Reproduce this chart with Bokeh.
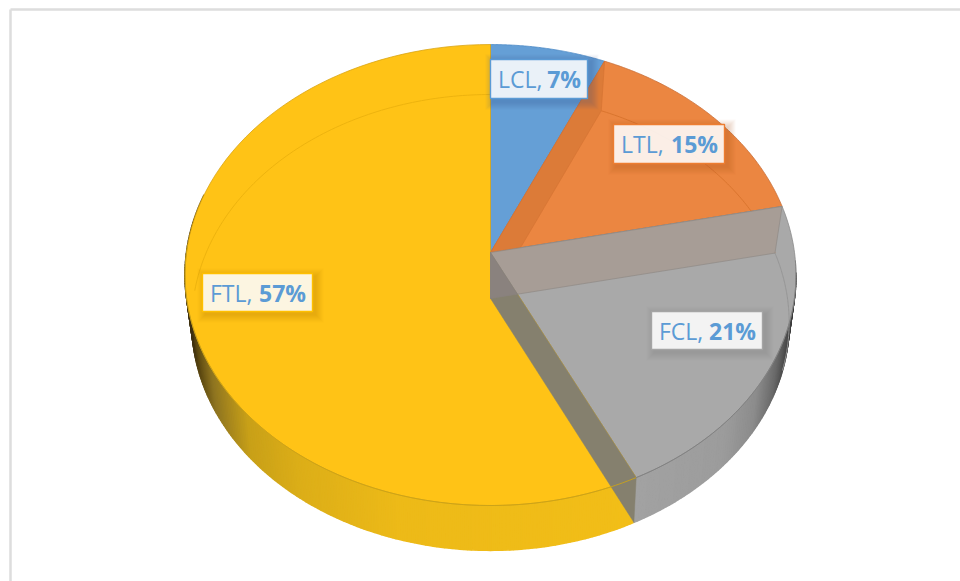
import numpy as np
from bokeh.plotting import figure
from bokeh.models import Range1d
from bokeh.core.properties import value
from bokeh.embed import file_html
from bokeh.resources import INLINE

# ---- data ----
categories = ["LCL", "LTL", "FCL", "FTL"]
shares = [6.7, 15.0, 21.1, 57.2]
percent_labels = ["7%", "15%", "21%", "57%"]

# ---- styles / layout ----
face_colors = ["#659FD6", "#EB8641", "#A9A9A9", "#FFC316"]
edge_colors = ["#4F8CC6", "#C9703A", "#8C8C8C", "#D9A514"]
box_left = [490, 613, 651, 202]
box_right = [587, 724, 762, 312]
box_top = [59, 124, 311, 273]
box_bottom = [98, 163, 349, 311]
box_border = ["#5B9BD5", "#ED7D31", "#A5A5A5", "#FFC000"]
shadow_col = ["#2F5F90", "#A85A20", "#666666", "#A87E00"]
TEXT_COL = "#5B9BD5"
FONT = "Open Sans"

# projection of the round pie on the page
TOP = dict(cx=490.0, cy=252.0, a=304.0, b=228.3, k=0.0977)
BOT = dict(cx=490.0, cy=298.0, a=297.0, b=225.4, k=0.105)


def rim(theta_deg, P):
    t = np.radians(np.asarray(theta_deg, dtype=float))
    x, y = np.sin(t), np.cos(t)
    w = 1 + P["k"] * y
    return P["cx"] + P["a"] * x / w, P["cy"] - P["b"] * y / w


def cross(p1, p2, p3, p4):
    d1 = np.subtract(p2, p1)
    d2 = np.subtract(p4, p3)
    c = lambda u, v: u[0] * v[1] - u[1] * v[0]
    s = c(np.subtract(p3, p1), d2) / c(d1, d2)
    return tuple(np.add(p1, s * d1))


def arc(t0, t1, P, n=90):
    return rim(np.linspace(t0, t1, n), P)


def hex2rgb(h):
    return np.array([int(h[i:i + 2], 16) for i in (1, 3, 5)], dtype=float)


def ramp(xv, xs, cols):
    rgb = [np.interp(xv, xs, [hex2rgb(c)[i] for c in cols]) for i in range(3)]
    return "#%02x%02x%02x" % tuple(int(round(v)) for v in rgb)


edges = np.concatenate([[0], np.cumsum(shares)]) / np.sum(shares) * 360.0

p = figure(width=960, height=581, x_range=Range1d(0, 960), y_range=Range1d(581, 0),
           output_backend="svg", toolbar_location=None, min_border=0,
           outline_line_color=None, background_fill_color="white")
p.axis.visible = False
p.grid.visible = False

# chart frame
p.line([10, 10], [581, 9], line_color="#DDDDDD", line_width=2.5)
p.line([10, 960], [9, 9], line_color="#DDDDDD", line_width=2.5)

# outer wall, shaded by position along the rim
wall_stops = {
    3: ([192, 200, 215, 250, 300, 400, 640],
        ["#3E3010", "#5E4A12", "#8E7420", "#C8A018", "#DCAE18", "#EDBA18", "#F2BE18"]),
    2: ([636, 720, 750, 770, 782, 790],
        ["#A2A2A2", "#9C9C9C", "#8C8C8C", "#6A6A6A", "#484848", "#2C2C2C"]),
}
for idx, (xs, cs) in wall_stops.items():
    t0, t1 = edges[idx], edges[idx + 1]
    t1 = min(t1, 285.0)
    t0 = max(t0, 95.0)
    th = np.linspace(t0, t1, int((t1 - t0) * 1.5) + 2)
    tx, ty = rim(th, TOP)
    bx, by = rim(th, BOT)
    for i in range(len(th) - 1):
        col = ramp(0.5 * (bx[i] + bx[i + 1]), xs, cs)
        p.patch([tx[i], tx[i + 1], bx[i + 1], bx[i]], [ty[i], ty[i + 1], by[i + 1], by[i]],
                fill_color=col, line_color=col, line_width=1.6)

# top faces
for i in range(4):
    ax, ay = arc(edges[i], edges[i + 1], TOP)
    p.patch(np.r_[TOP["cx"], ax], np.r_[TOP["cy"], ay], fill_color=face_colors[i],
            line_color=edge_colors[i], line_width=0.8)

# inner wall seen through the LCL / LTL boundary (clipped by the LTL / FCL line)
apex_t = (TOP["cx"], TOP["cy"])
apex_b = (BOT["cx"], BOT["cy"])
r1t = tuple(float(v) for v in rim(edges[1], TOP))
r1b = tuple(float(v) for v in rim(edges[1], BOT))
r2t = tuple(float(v) for v in rim(edges[2], TOP))
r2b = tuple(float(v) for v in rim(edges[2], BOT))
r3t = tuple(float(v) for v in rim(edges[3], TOP))
r3b = tuple(float(v) for v in rim(edges[3], BOT))

c1 = cross(r1b, apex_b, apex_t, r2t)
p.patch([apex_t[0], r1t[0], r1b[0], c1[0]], [apex_t[1], r1t[1], r1b[1], c1[1]],
        fill_color="#DC7B38", line_color="#D57434", line_width=0.7)

# faint far rim of the base
for t0, t1, col in [(edges[1], edges[2], "#D9752F"), (edges[2], 108, "#969696"), (272, 360, "#EDB30F")]:
    lx, ly = arc(t0, t1, BOT)
    p.line(lx, ly, line_color=col, line_width=1)

# walls at the LTL / FCL and FCL / FTL boundaries
p.patch([apex_t[0], r2t[0], r2b[0], apex_b[0]], [apex_t[1], r2t[1], r2b[1], apex_b[1]],
        fill_color="#A79D96", line_color="#8F8A85", line_width=0.7)
p.patch([apex_t[0], r3t[0], r3b[0], apex_b[0]], [apex_t[1], r3t[1], r3b[1], apex_b[1]],
        fill_color="#85806E", line_color="#85806E", line_width=0.5)
c2 = cross(r2b, apex_b, apex_t, r3t)
p.patch([apex_t[0], c2[0], apex_b[0]], [apex_t[1], c2[1], apex_b[1]],
        fill_color="#8A827E", line_color="#8A827E", line_width=0.5)

# near edge of the top face
fx, fy = arc(edges[3], 272, TOP)
p.line(fx, fy, line_color="#C9A31A", line_width=0.9)
gx, gy = arc(92, edges[3], TOP)
p.line(gx, gy, line_color="#808080", line_width=0.9)

# data labels
for i, cat in enumerate(categories):
    for grow in range(8, 0, -1):
        p.quad(left=box_left[i] + 3 - grow, right=box_right[i] + 3 + grow,
               top=box_top[i] + 3 - grow, bottom=box_bottom[i] + 3 + grow,
               fill_color=shadow_col[i], fill_alpha=0.035, line_color=None)
    p.quad(left=box_left[i], right=box_right[i], top=box_top[i], bottom=box_bottom[i],
           fill_color="white", fill_alpha=0.88, line_color=box_border[i], line_width=1.4)
    ymid = 0.5 * (box_top[i] + box_bottom[i])
    p.text([box_left[i] + 7.5], [ymid], text=[cat + ","], text_font=value(FONT),
           text_font_size="23px", text_color=TEXT_COL, text_align="left",
           text_baseline="middle")
    p.text([box_right[i] - 6.5], [ymid], text=[percent_labels[i]], text_font=value(FONT),
           text_font_size="23px", text_font_style="bold", text_color=TEXT_COL,
           text_align="right", text_baseline="middle")

open("out.html", "w").write(file_html(p, INLINE))
